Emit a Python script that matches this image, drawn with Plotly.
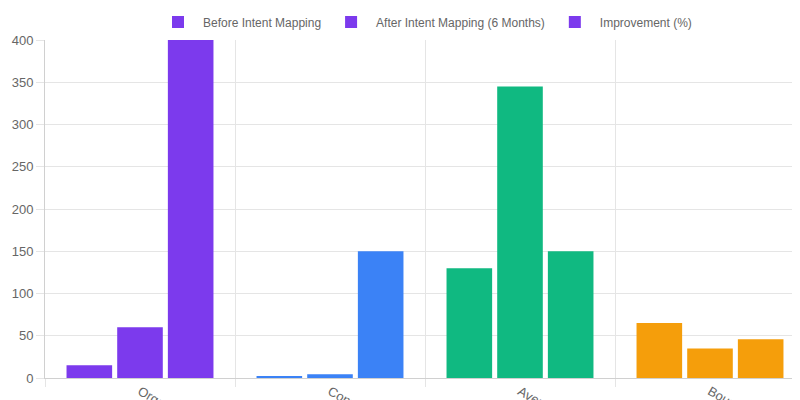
import plotly.graph_objects as go

categories = ["Organic Traffic Growth", "Conversion Rate (Consultations)", "Average Time on Page", "Bounce Rate"]
before = [15, 2.1, 130, 65]
after = [60, 4.5, 345, 35]
improvement = [400, 150, 150, 46]
series_names = ["Before Intent Mapping", "After Intent Mapping (6 Months)", "Improvement (%)"]
colors = ["#7c3aed", "#3b82f6", "#10b981", "#f59e0b"]

fig = go.Figure()
for name, vals in zip(series_names, [before, after, improvement]):
    fig.add_bar(x=categories, y=vals, name=name, marker=dict(color=colors, line=dict(width=0)))

fig.update_layout(
    width=800, height=400, barmode="group", bargap=0.2, bargroupgap=0.1,
    paper_bgcolor="white", plot_bgcolor="white",
    margin=dict(l=37, r=3, t=32, b=30, autoexpand=False),
    font=dict(family="Liberation Sans, Arial, sans-serif", size=13, color="#666"),
    legend=dict(orientation="h", x=0.5, xanchor="center", y=1.01, yanchor="bottom",
                font=dict(size=12, color="#666"), itemwidth=40),
    showlegend=True,
)
fig.update_xaxes(tickson="boundaries", showgrid=True, gridcolor="#e5e5e5", ticks="outside",
                 ticklen=8, tickcolor="#e5e5e5", showline=True, linecolor="#d0d0d0", automargin=False)
fig.update_yaxes(range=[0, 400], dtick=50, showgrid=True, gridcolor="#e5e5e5",
                 showline=True, linecolor="#d0d0d0", ticks="outside", ticklen=8,
                 tickcolor="#e5e5e5", zeroline=False, automargin=False)
fig.write_html("out.html")
